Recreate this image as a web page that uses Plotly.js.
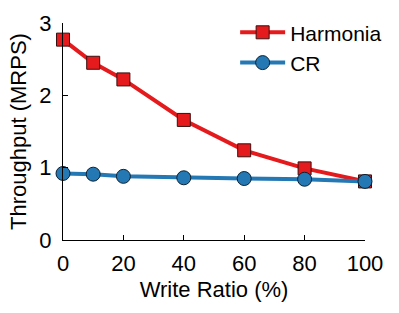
<!DOCTYPE html>
<html><head><meta charset="utf-8">
<script src="https://cdn.plot.ly/plotly-3.0.1.min.js"></script>
<style>body{margin:0;background:#fff}#c{width:399px;height:313px}</style>
</head><body><div id="c"></div>
<script>
const writeRatio = [0, 10, 20, 40, 60, 80, 100];
const harmonia = [2.77, 2.45, 2.22, 1.66, 1.24, 0.99, 0.81];
const cr = [0.92, 0.91, 0.88, 0.86, 0.85, 0.84, 0.81];
const xTicks = [0, 20, 40, 60, 80, 100];
const yTicks = [0, 1, 2, 3];

const font = {family: 'Liberation Sans, Arial, sans-serif', color: '#000'};
const traces = [
  {x: writeRatio, y: harmonia, name: 'Harmonia', mode: 'lines+markers', cliponaxis: false,
   line: {color: '#e41a1c', width: 4},
   marker: {symbol: 'square', size: 13, color: '#e41a1c', line: {color: '#3a1010', width: 1}}},
  {x: writeRatio, y: cr, name: 'CR', mode: 'lines+markers', cliponaxis: false,
   line: {color: '#2478b4', width: 4},
   marker: {symbol: 'circle', size: 14, color: '#2478b4', line: {color: '#0d2233', width: 1}}}
];
const layout = {
  width: 399, height: 313,
  margin: {l: 63, r: 30, t: 18, b: 73},
  paper_bgcolor: '#fff', plot_bgcolor: '#fff',
  font: font,
  showlegend: true,
  legend: {x: 0.57, y: 1.05, xanchor: 'left', yanchor: 'top', font: {size: 21, family: font.family},
           bgcolor: 'rgba(0,0,0,0)', tracegroupgap: 0, itemwidth: 45},
  xaxis: {range: [0, 100], tickvals: xTicks, ticktext: xTicks.map(String), showgrid: false, zeroline: false,
          automargin: false,
          showline: true, linecolor: '#000', linewidth: 1, ticks: 'inside', ticklen: 5, tickcolor: '#000',
          ticklabelstandoff: 4,
          tickfont: {size: 22}, title: {text: 'Write Ratio (%)', font: {size: 22}, standoff: 6}},
  yaxis: {range: [0, 3], tickvals: yTicks, ticktext: yTicks.map(String), showgrid: false, zeroline: false,
          automargin: false,
          showline: true, linecolor: '#000', linewidth: 1, ticks: 'inside', ticklen: 5, tickcolor: '#000',
          ticklabelstandoff: 6,
          tickfont: {size: 22}, title: {text: 'Throughput (MRPS)', font: {size: 22}, standoff: 6}}
};
Plotly.newPlot('c', traces, layout, {staticPlot: true, displayModeBar: false});
</script></body></html>
